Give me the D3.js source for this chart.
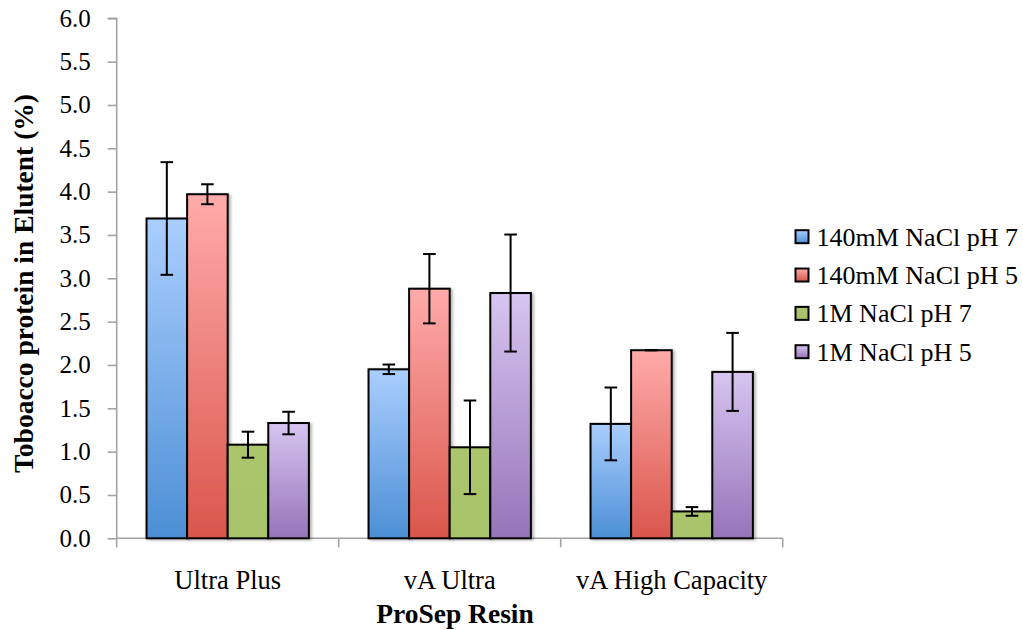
<!DOCTYPE html>
<html><head><meta charset="utf-8">
<script src="https://cdn.jsdelivr.net/npm/d3@7"></script>
<style>
html,body{margin:0;padding:0;background:#fff;}
svg{display:block;}
text{font-family:"Liberation Serif","Times New Roman",serif;fill:#000;}
</style></head>
<body>
<svg id="chart" width="1023" height="630"></svg>
<script>
const categories = ["Ultra Plus", "vA Ultra", "vA High Capacity"];
const seriesNames = ["140mM NaCl pH 7", "140mM NaCl pH 5", "1M NaCl pH 7", "1M NaCl pH 5"];
const valuesS1 = [3.69, 1.95, 1.32];
const valuesS2 = [3.97, 2.88, 2.17];
const valuesS3 = [1.08, 1.05, 0.31];
const valuesS4 = [1.33, 2.83, 1.92];
const errorsS1 = [0.65, 0.055, 0.42];
const errorsS2 = [0.115, 0.40, 0.0];
const errorsS3 = [0.15, 0.54, 0.05];
const errorsS4 = [0.13, 0.675, 0.45];
const yTicks = [0, 0.5, 1, 1.5, 2, 2.5, 3, 3.5, 4, 4.5, 5, 5.5, 6];

const seriesValues = [valuesS1, valuesS2, valuesS3, valuesS4];
const seriesErrors = [errorsS1, errorsS2, errorsS3, errorsS4];
const gradColors = [["#aacefe", "#4c8fd5"], ["#ffabaa", "#d9564b"], ["#abc56d", "#a8c36a"], ["#d7c5f1", "#9674b8"]];

const svg = d3.select("#chart");
const pLeft = 116.7, pRight = 782.7, pTop = 18.3, pBottom = 538.3;

const defs = svg.append("defs");
gradColors.forEach((c, i) => {
  const g = defs.append("linearGradient").attr("id", "g" + i).attr("x1", 0).attr("y1", 0).attr("x2", 0).attr("y2", 1);
  g.append("stop").attr("offset", "0%").attr("stop-color", c[0]);
  g.append("stop").attr("offset", "100%").attr("stop-color", c[1]);
});
const f = defs.append("filter").attr("id", "sh").attr("x", "-20%").attr("y", "-20%").attr("width", "150%").attr("height", "150%");
f.append("feDropShadow").attr("dx", 2).attr("dy", 1).attr("stdDeviation", 1.5).attr("flood-color", "#000").attr("flood-opacity", 0.3);

const x = d3.scaleBand().domain(categories).range([pLeft, pRight]).paddingInner(0).paddingOuter(0);
const xs = d3.scaleBand().domain(d3.range(seriesNames.length)).range([0, x.bandwidth()]).paddingInner(0).paddingOuter(0.735);
const y = d3.scaleLinear().domain([0, 6]).range([pBottom, pTop]);

// axes
const axisColor = "#a3a3a3";
const yAxis = svg.append("g").attr("transform", `translate(${pLeft},0)`)
  .call(d3.axisLeft(y).tickValues(yTicks).tickSize(9).tickPadding(17).tickFormat(d3.format(".1f")));
yAxis.select(".domain").attr("stroke", axisColor).attr("stroke-width", 1.6).attr("d", `M-9,${pTop}H0V${pBottom}`);
yAxis.selectAll(".tick line").attr("stroke", axisColor).attr("stroke-width", 1.6);
yAxis.selectAll(".tick text").attr("font-size", 25).attr("font-family", "Liberation Serif").attr("fill", "#000");

const xAxis = svg.append("g").attr("transform", `translate(0,${pBottom})`)
  .call(d3.axisBottom(x).tickSize(0).tickPadding(30));
xAxis.select(".domain").attr("stroke", axisColor).attr("stroke-width", 1.6).attr("d", `M${pLeft},0H${pRight}`);
xAxis.selectAll(".tick text").attr("font-size", 26.5).attr("font-family", "Liberation Serif").attr("fill", "#000").attr("dy", "0.71em").attr("y", 32);
const bounds = categories.map(c => x(c)).concat([x(categories[categories.length - 1]) + x.bandwidth()]);
svg.append("g").selectAll("line").data(bounds).join("line")
  .attr("x1", d => d).attr("x2", d => d).attr("y1", pBottom).attr("y2", pBottom + 9)
  .attr("stroke", axisColor).attr("stroke-width", 1.6);

// bars
const barsG = svg.append("g");
seriesValues.forEach((vals, si) => {
  barsG.append("g").selectAll("rect").data(vals).join("rect")
    .attr("x", (d, i) => x(categories[i]) + xs(si))
    .attr("y", d => y(d))
    .attr("width", xs.bandwidth())
    .attr("height", d => y(0) - y(d))
    .attr("fill", `url(#g${si})`)
    .attr("stroke", "#000").attr("stroke-width", 2)
    .attr("filter", "url(#sh)");
});
// error bars
const errG = svg.append("g").attr("stroke", "#000").attr("stroke-width", 2);
seriesValues.forEach((vals, si) => {
  vals.forEach((v, i) => {
    const e = seriesErrors[si][i];
    const cx = x(categories[i]) + xs(si) + xs.bandwidth() / 2;
    const cw = 6.3;
    errG.append("line").attr("x1", cx).attr("x2", cx).attr("y1", y(v + e)).attr("y2", y(v - e));
    errG.append("line").attr("x1", cx - cw).attr("x2", cx + cw).attr("y1", y(v + e)).attr("y2", y(v + e));
    errG.append("line").attr("x1", cx - cw).attr("x2", cx + cw).attr("y1", y(v - e)).attr("y2", y(v - e));
  });
});

// axis titles
svg.append("text").text("ProSep Resin")
  .attr("x", 455).attr("y", 623).attr("text-anchor", "middle")
  .attr("font-weight", "bold").attr("font-size", 27.5);
svg.append("text").text("Toboacco protein in Elutent (%)")
  .attr("transform", `translate(33,283.5) rotate(-90)`).attr("text-anchor", "middle")
  .attr("font-weight", "bold").attr("font-size", 27.5);

// legend
const legY = d3.scalePoint().domain(seriesNames).range([236.7, 351.7]);
const leg = svg.append("g");
seriesNames.forEach((n, i) => {
  const cy = legY(n);
  leg.append("rect").attr("x", 795.5).attr("y", cy - 6.5).attr("width", 13).attr("height", 13)
    .attr("fill", `url(#g${i})`).attr("stroke", "#000").attr("stroke-width", 2);
  leg.append("text").text(n).attr("x", 816.5).attr("y", cy + 9).attr("font-size", 26);
});
</script>
</body></html>
